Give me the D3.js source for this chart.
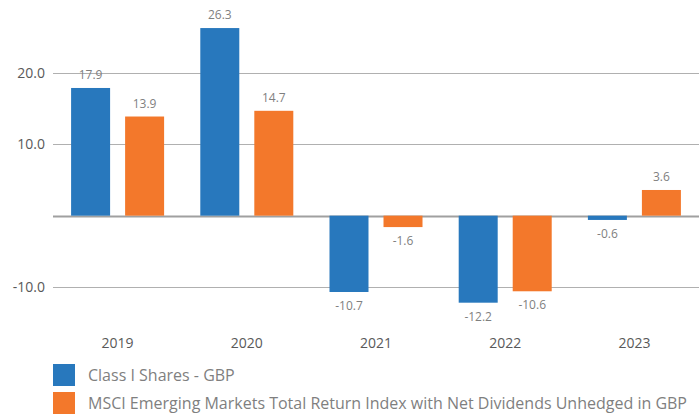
<!DOCTYPE html>
<html><head><meta charset="utf-8">
<script src="https://cdn.jsdelivr.net/npm/d3@7"></script>
<style>body{margin:0;background:#fff}svg{display:block}</style>
</head><body>
<svg id="c" width="699" height="415"></svg>
<script>
const categories = ["2019","2020","2021","2022","2023"];
const classI = [17.9, 26.3, -10.7, -12.2, -0.6];
const msci = [13.9, 14.7, -1.6, -10.6, 3.6];
const seriesNames = ["Class I Shares - GBP","MSCI Emerging Markets Total Return Index with Net Dividends Unhedged in GBP"];
const yTicks = [20, 10, 0, -10];
const colors = ["#2878bd", "#f3782b"];

const svg = d3.select("#c");
const font = "'Open Sans', sans-serif";
const fmt = d => d3.format(".1f")(d).replace("\u2212", "-");
const x = d3.scaleBand().domain(categories).range([53, 699]);
const y = d3.scaleLinear().domain([-10, 20]).range([287, 73]);
const sub = d3.scaleBand().domain([0,1]).range([0, x.bandwidth()]).paddingInner(0.278).paddingOuter(0.335);

svg.selectAll("line.g").data(yTicks).join("line")
  .attr("x1", 53).attr("x2", 699)
  .attr("y1", d => Math.round(y(d)) + 0.5).attr("y2", d => Math.round(y(d)) + 0.5)
  .attr("stroke", d => d === 0 ? "#a0a0a0" : "#b0b0b0")
  .attr("stroke-width", d => d === 0 ? 2 : 1);

svg.selectAll("text.yl").data(yTicks.filter(d => d !== 0)).join("text")
  .attr("x", 45).attr("y", d => y(d)).attr("dy", "0.35em")
  .attr("text-anchor", "end").attr("font-family", font).attr("font-size", 14)
  .attr("fill", "#595959").text(fmt);

const series = [classI, msci];
series.forEach((vals, si) => {
  const g = svg.append("g");
  g.selectAll("rect").data(vals).join("rect")
    .attr("x", (d, i) => x(categories[i]) + sub(si))
    .attr("width", sub.bandwidth())
    .attr("y", d => y(Math.max(0, d)))
    .attr("height", d => Math.abs(y(d) - y(0)))
    .attr("fill", colors[si]);
  g.selectAll("text").data(vals).join("text")
    .attr("x", (d, i) => x(categories[i]) + sub(si) + sub.bandwidth() / 2)
    .attr("y", d => d >= 0 ? y(d) - 9 : y(d) + 18)
    .attr("text-anchor", "middle").attr("font-family", font).attr("font-size", 12)
    .attr("fill", "#7f7f7f").text(fmt);
});

svg.selectAll("text.xl").data(categories).join("text")
  .attr("x", d => x(d) + x.bandwidth() / 2).attr("y", 348)
  .attr("text-anchor", "middle").attr("font-family", font).attr("font-size", 14)
  .attr("fill", "#595959").text(d => d);

const leg = svg.selectAll("g.leg").data(seriesNames).join("g")
  .attr("transform", (d, i) => `translate(53,${364 + i * 28})`);
leg.append("rect").attr("width", 22).attr("height", 22).attr("fill", (d, i) => colors[i]);
leg.append("text").attr("x", 35).attr("y", 11).attr("dy", "0.35em")
  .attr("font-family", font).attr("font-size", 16).attr("fill", "#7f7f7f").text(d => d);
</script>
</body></html>
